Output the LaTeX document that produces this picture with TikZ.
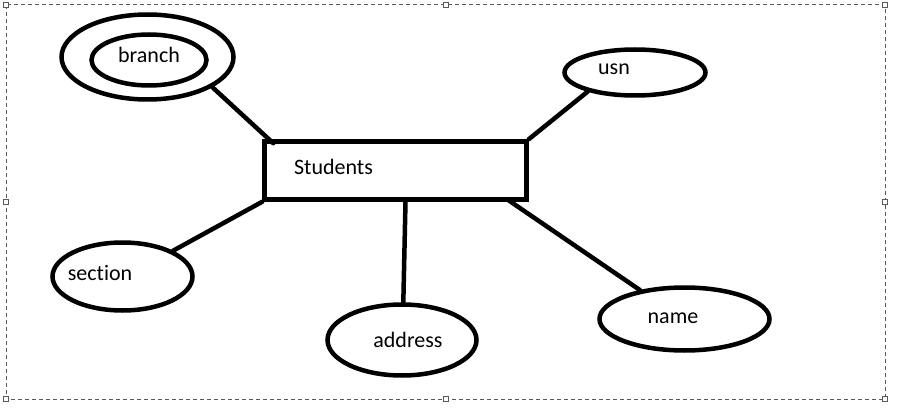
\documentclass[tikz,border=0pt]{standalone}
\usepackage{fontspec}
\setmainfont{Carlito}[Ligatures=NoCommon]
\usepackage{pgf,tikz}
\usetikzlibrary{shapes.geometric,calc}
\tikzstyle{entity} = [draw, rectangle, line width=4.5pt, inner sep=0pt, minimum width=262pt, minimum height=58pt]
\tikzstyle{attr} = [draw, ellipse, line width=4.5pt, inner sep=0pt]
\tikzstyle{lbl} = [anchor=base, inner sep=0pt, font=\fontsize{22}{26}\selectfont]
\tikzstyle{link} = [line width=4.5pt, line cap=round]
\tikzstyle{frame} = [draw=black!65, line width=1pt, dash pattern=on 4pt off 3pt]
\tikzstyle{handle} = [draw=black!65, fill=white, line width=1pt, rectangle, inner sep=0pt, minimum size=5pt]

\begin{document}
\begin{tikzpicture}[x=1pt, y=-1pt]
	\useasboundingbox (0,0) rectangle (914,412);
	\draw[frame] (6,5) rectangle (885,399);
	\foreach \hx/\hy [count=\i] in {6/5, 445.5/5, 885/5, 6/202, 885/202, 6/399, 445.5/399, 885/399}
		\node[handle] (h\i) at (\hx,\hy) {};

	\node[entity] (stud) at (395.5,170.5) {};
	\node[lbl] (studt) at (333.5,174) {Students};

	\node[attr, minimum width=172pt, minimum height=85pt] (brancho) at (147.5,57) {};
	\node[attr, minimum width=115pt, minimum height=51pt] (branch) at (149,60) {};
	\node[lbl] (brancht) at (149,63) {branch};

	\node[attr, minimum width=141pt, minimum height=46pt] (usn) at (635,72.5) {};
	\node[lbl] (usnt) at (614,75) {usn};

	\node[attr, minimum width=140pt, minimum height=68pt] (section) at (122.5,276.5) {};
	\node[lbl] (sectiont) at (100,280) {section};

	\node[attr, minimum width=149pt, minimum height=71pt] (address) at (402,340) {};
	\node[lbl] (addresst) at (408,347) {address};

	\node[attr, minimum width=170pt, minimum height=63pt] (name) at (684.5,319) {};
	\node[lbl] (namet) at (673,323) {name};

	\draw[link] (brancho.-25) -- ($(stud.north west)+(11,4)$);
	\draw[link] (stud.north east) -- (usn.-158);
	\draw[link] (section.27) -- (stud.south west);
	\draw[link] ($(stud.south)+(10,0)$) -- (address.88);
	\draw[link] ($(stud.south east)+(-21,-2)$) -- (name.147);
\end{tikzpicture}
\end{document}
